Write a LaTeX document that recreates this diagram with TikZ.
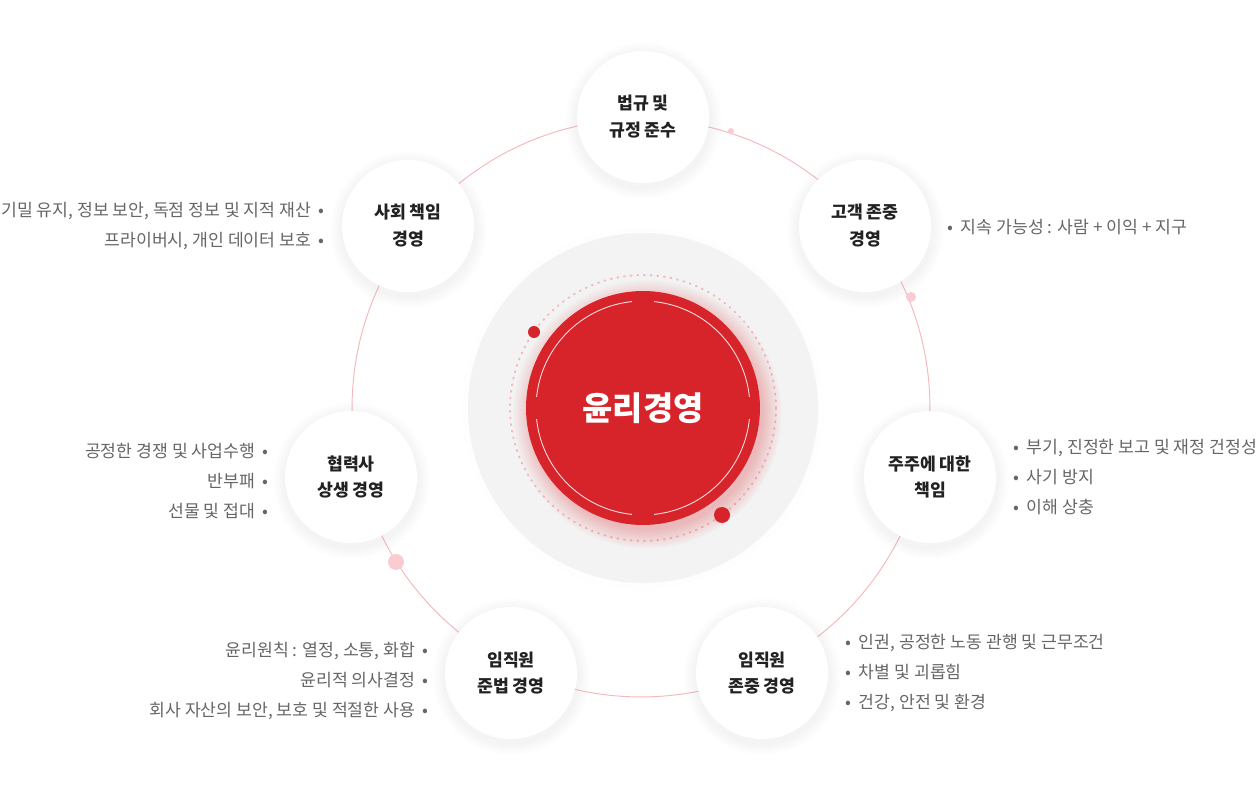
\documentclass[tikz,border=0pt]{standalone}
\usepackage{fontspec}
\setmainfont{Noto Sans CJK KR}
\usepackage{xcolor}
\usepackage{tikz}
\usetikzlibrary{positioning,shadows,fadings}
\definecolor{ethicRed}{HTML}{D7242A}
\definecolor{ringPink}{HTML}{F4B9BD}
\definecolor{dotPink}{HTML}{F9CDD0}
\definecolor{haloGray}{HTML}{F3F3F3}
\definecolor{labelGray}{HTML}{666666}
\definecolor{nodeInk}{HTML}{222222}

\begin{document}
\begin{tikzpicture}[
  x=0.02cm,y=-0.02cm,
  topic/.style={circle,fill=white,minimum size=2.64cm,inner sep=0pt,align=center,text=nodeInk,font=\fontsize{9.8}{15.3}\selectfont\bfseries,
    circular drop shadow={shadow xshift=0pt,shadow yshift=-1.5pt,shadow scale=1.2,opacity=0.09}},
  leftnote/.style={anchor=east,align=right,inner sep=0pt,text=labelGray,font=\fontsize{9.8}{17}\selectfont},
  rightnote/.style={anchor=west,align=left,inner sep=0pt,text=labelGray,font=\fontsize{9.8}{17}\selectfont},
  ring/.style={draw=ringPink,line width=0.55pt},
  ringdot/.style={circle,fill=dotPink,inner sep=0pt}
]
\useasboundingbox (0,0) rectangle (1258,807);
\coordinate (hub) at (641,408);
\draw[ring] (hub) circle (5.78cm);
\fill[haloGray,circular drop shadow={shadow xshift=0pt,shadow yshift=0pt,shadow scale=1.04,opacity=0.05}] (643,408) circle (3.5cm);
\draw[ringPink,line width=1.1pt,dash pattern=on 0.6pt off 3.2pt,line cap=round] (643,408) circle (2.66cm);
\node[circle,fill=ethicRed,minimum size=4.68cm,inner sep=0pt,text=white,font=\fontsize{18.7}{22}\selectfont\bfseries,
  circular drop shadow={shadow xshift=2pt,shadow yshift=-3pt,shadow scale=1.15,opacity=0.28,fill=ethicRed}] (core) at (643,408) {윤리경영};
\foreach \a in {0,90,180,270}
  \draw[white,line width=0.5pt,opacity=0.85] (core.center) ++(\a+6:2.14cm) arc[start angle=\a+6,end angle=\a+84,radius=2.14cm];
\fill[ethicRed] (534,332) circle (0.12cm);
\fill[ethicRed] (722,515) circle (0.16cm);
\node[ringdot,minimum size=0.12cm] (d1) at (731,131) {};
\node[ringdot,minimum size=0.2cm] (d2) at (911,297) {};
\node[ringdot,minimum size=0.32cm] (d3) at (396,562) {};

\node[topic] (law) at (643,117) {법규 및\\규정 준수};
\node[topic] (customer) at (865,226) {고객 존중\\경영};
\node[topic] (holder) at (930,477) {주주에 대한\\책임};
\node[topic] (staffcare) at (762,673) {임직원\\존중 경영};
\node[topic] (staffrule) at (511,673) {임직원\\준법 경영};
\node[topic] (partner) at (351,477) {협력사\\상생 경영};
\node[topic] (social) at (408,226) {사회 책임\\경영};

\node[leftnote] (socialnote) at (325,226) {기밀 유지, 정보 보안, 독점 정보 및 지적 재산 \ •\\프라이버시, 개인 데이터 보호 \ •};
\node[rightnote] (customernote) at (947,227) {• \ 지속 가능성 : 사람 + 이익 + 지구};
\node[rightnote] (holdernote) at (1013,477) {• \ 부기, 진정한 보고 및 재정 건정성\\• \ 사기 방지\\• \ 이해 상충};
\node[leftnote] (partnernote) at (269,481) {공정한 경쟁 및 사업수행 \ •\\반부패 \ •\\선물 및 접대 \ •};
\node[leftnote] (staffrulenote) at (429,681) {윤리원칙 : 열정, 소통, 화합 \ •\\윤리적 의사결정 \ •\\회사 자산의 보안, 보호 및 적절한 사용 \ •};
\node[rightnote] (staffcarenote) at (845,673) {• \ 인권, 공정한 노동 관행 및 근무조건\\• \ 차별 및 괴롭힘\\• \ 건강, 안전 및 환경};
\end{tikzpicture}
\end{document}
